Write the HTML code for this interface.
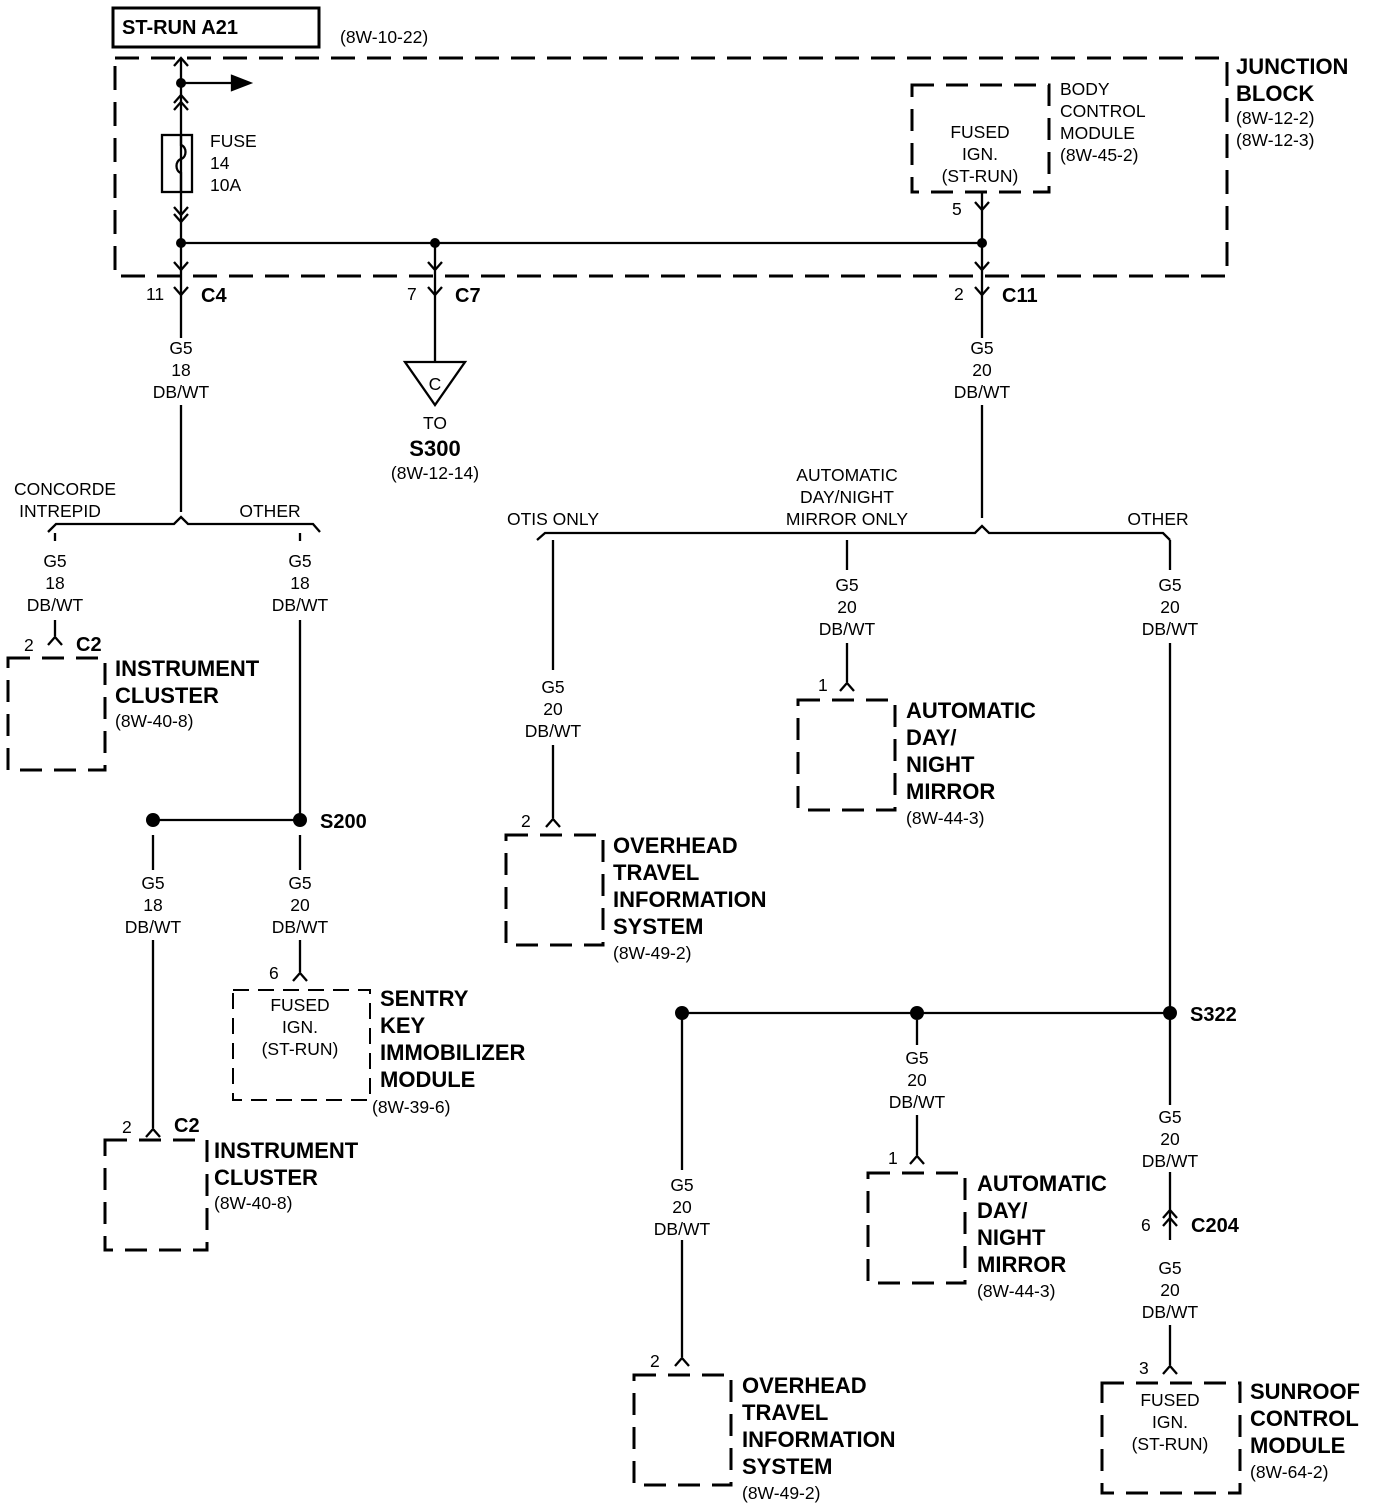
<!DOCTYPE html>
<html><head><meta charset="utf-8"><style>
html,body{margin:0;padding:0;background:#fff}
svg{display:block}
text{font-family:"Liberation Sans",sans-serif;fill:#000}
.t{font-size:17.5px}
.b{font-size:22px;font-weight:bold}
.c{text-anchor:middle}
</style></head><body>
<svg width="1376" height="1510" viewBox="0 0 1376 1510" xmlns="http://www.w3.org/2000/svg">
<g fill="none" stroke="#000" stroke-width="2.3">
<rect x="113" y="8" width="206" height="39" stroke-width="3"/>
<rect x="115" y="58" width="1112" height="218" stroke-width="3" stroke-dasharray="24,12"/>
<rect x="912" y="85" width="137" height="107" stroke-width="3" stroke-dasharray="22,12"/>
<path d="M181 58V300"/>
<path d="M174 66l7-8 7 8M174 103l7-8 7 8M174 110l7-8 7 8"/>
<path d="M181 83H235"/>
<path d="M232 76l18 7-18 7z" fill="#000"/>
<rect x="162" y="135" width="30" height="57"/>
<path d="M181 135v10c6 2 6 12 0 14c-6 2-6 12 0 14v19"/>
<path d="M174 207l7 8 7-8M174 214l7 8 7-8"/>
<path d="M174 262l7 8 7-8"/>
<path d="M181 243H982"/>
<path d="M435 243V362M428 262l7 8 7-8"/>
<path d="M982 192V338M975 202l7 8 7-8M975 262l7 8 7-8"/>
<path d="M174 287l7 8 7-8M428 287l7 8 7-8M975 287l7 8 7-8"/>
<path d="M181 300V338M181 405V512"/>
<path d="M48 532l8-8H174l7-7 7 7H313l7 8"/>
<path d="M55 533V541M300 533V541"/>
<path d="M55 620V636M48 645l7-8 7 8"/>
<rect x="8" y="658" width="97" height="112" stroke-width="3" stroke-dasharray="22,12"/>
<path d="M300 620V820M153 820H300M153 835V870M153 940V1128M146 1137l7-8 7 8"/>
<rect x="105" y="1140" width="102" height="110" stroke-width="3" stroke-dasharray="22,12"/>
<path d="M300 835V870M300 940V972M293 981l7-8 7 8"/>
<rect x="233" y="990" width="137" height="110" stroke-width="2" stroke-dasharray="16,9"/>
<path d="M405 362H465L435 405Z"/>
<path d="M982 405V518M537 540l8-7H975l7-7 7 7H1163l7 7"/>
<path d="M553 540V670M553 745V818M546 827l7-8 7 8"/>
<rect x="506" y="835" width="97" height="110" stroke-width="3" stroke-dasharray="22,12"/>
<path d="M847 540V570M847 643V682M840 691l7-8 7 8"/>
<rect x="798" y="700" width="97" height="110" stroke-width="3" stroke-dasharray="22,12"/>
<path d="M1170 540V570M1170 643V1105M682 1013H1170"/>
<path d="M917 1020V1045M917 1115V1155M910 1164l7-8 7 8"/>
<rect x="868" y="1173" width="97" height="110" stroke-width="3" stroke-dasharray="22,12"/>
<path d="M682 1013V1170M682 1240V1357M675 1366l7-8 7 8"/>
<rect x="634" y="1375" width="97" height="110" stroke-width="3" stroke-dasharray="22,12"/>
<path d="M1170 1172V1240M1163 1218l7-8 7 8M1163 1226l7-8 7 8"/>
<path d="M1170 1325V1365M1163 1374l7-8 7 8"/>
<rect x="1102" y="1383" width="138" height="110" stroke-width="3" stroke-dasharray="22,12"/>
</g>
<g fill="#000">
<circle cx="181" cy="83" r="5"/><circle cx="181" cy="243" r="5"/><circle cx="435" cy="243" r="5"/><circle cx="982" cy="243" r="5"/>
<circle cx="153" cy="820" r="7"/><circle cx="300" cy="820" r="7"/>
<circle cx="682" cy="1013" r="7"/><circle cx="917" cy="1013" r="7"/><circle cx="1170" cy="1013" r="7"/>
</g>
<text class="b" x="122" y="34" style="font-size:20px">ST-RUN A21</text>
<text class="t" x="340" y="43">(8W-10-22)</text>
<text class="b" x="1236" y="74">JUNCTION</text>
<text class="b" x="1236" y="101">BLOCK</text>
<text class="t" x="1236" y="124">(8W-12-2)</text>
<text class="t" x="1236" y="146">(8W-12-3)</text>
<text class="t" x="210" y="147">FUSE</text><text class="t" x="210" y="169">14</text><text class="t" x="210" y="191">10A</text>
<text class="t c" x="980" y="138">FUSED</text><text class="t c" x="980" y="160">IGN.</text><text class="t c" x="980" y="182">(ST-RUN)</text>
<text class="t" x="1060" y="95">BODY</text><text class="t" x="1060" y="117">CONTROL</text><text class="t" x="1060" y="139">MODULE</text><text class="t" x="1060" y="161">(8W-45-2)</text>
<text class="t" x="952" y="215">5</text>
<text class="t" x="146" y="300">11</text><text class="b" x="201" y="302" style="font-size:20px">C4</text>
<text class="t" x="407" y="300">7</text><text class="b" x="455" y="302" style="font-size:20px">C7</text>
<text class="t" x="954" y="300">2</text><text class="b" x="1002" y="302" style="font-size:20px">C11</text>
<g class="t c">
<text x="181" y="354">G5</text><text x="181" y="376">18</text><text x="181" y="398">DB/WT</text>
<text x="982" y="354">G5</text><text x="982" y="376">20</text><text x="982" y="398">DB/WT</text>
<text x="435" y="390">C</text><text x="435" y="429">TO</text>
<text x="435" y="479">(8W-12-14)</text>
<text x="65" y="495">CONCORDE</text><text x="60" y="517">INTREPID</text><text x="270" y="517">OTHER</text>
<text x="55" y="567">G5</text><text x="55" y="589">18</text><text x="55" y="611">DB/WT</text>
<text x="300" y="567">G5</text><text x="300" y="589">18</text><text x="300" y="611">DB/WT</text>
<text x="153" y="889">G5</text><text x="153" y="911">18</text><text x="153" y="933">DB/WT</text>
<text x="300" y="889">G5</text><text x="300" y="911">20</text><text x="300" y="933">DB/WT</text>
<text x="300" y="1011">FUSED</text><text x="300" y="1033">IGN.</text><text x="300" y="1055">(ST-RUN)</text>
<text x="553" y="525">OTIS ONLY</text>
<text x="847" y="481">AUTOMATIC</text><text x="847" y="503">DAY/NIGHT</text><text x="847" y="525">MIRROR ONLY</text>
<text x="1158" y="525">OTHER</text>
<text x="847" y="591">G5</text><text x="847" y="613">20</text><text x="847" y="635">DB/WT</text>
<text x="1170" y="591">G5</text><text x="1170" y="613">20</text><text x="1170" y="635">DB/WT</text>
<text x="553" y="693">G5</text><text x="553" y="715">20</text><text x="553" y="737">DB/WT</text>
<text x="917" y="1064">G5</text><text x="917" y="1086">20</text><text x="917" y="1108">DB/WT</text>
<text x="682" y="1191">G5</text><text x="682" y="1213">20</text><text x="682" y="1235">DB/WT</text>
<text x="1170" y="1123">G5</text><text x="1170" y="1145">20</text><text x="1170" y="1167">DB/WT</text>
<text x="1170" y="1274">G5</text><text x="1170" y="1296">20</text><text x="1170" y="1318">DB/WT</text>
<text x="1170" y="1406">FUSED</text><text x="1170" y="1428">IGN.</text><text x="1170" y="1450">(ST-RUN)</text>
</g>
<text class="b c" x="435" y="456">S300</text>
<text class="t" x="24" y="651">2</text><text class="b" x="76" y="651" style="font-size:20px">C2</text>
<text class="b" x="115" y="676">INSTRUMENT</text><text class="b" x="115" y="703">CLUSTER</text><text class="t" x="115" y="727">(8W-40-8)</text>
<text class="b" x="320" y="828" style="font-size:20px">S200</text>
<text class="t" x="269" y="979">6</text>
<text class="b" x="380" y="1006">SENTRY</text><text class="b" x="380" y="1033">KEY</text><text class="b" x="380" y="1060">IMMOBILIZER</text><text class="b" x="380" y="1087">MODULE</text><text class="t" x="372" y="1113">(8W-39-6)</text>
<text class="t" x="122" y="1133">2</text><text class="b" x="174" y="1132" style="font-size:20px">C2</text>
<text class="b" x="214" y="1158">INSTRUMENT</text><text class="b" x="214" y="1185">CLUSTER</text><text class="t" x="214" y="1209">(8W-40-8)</text>
<text class="t" x="521" y="827">2</text>
<text class="b" x="613" y="853">OVERHEAD</text><text class="b" x="613" y="880">TRAVEL</text><text class="b" x="613" y="907">INFORMATION</text><text class="b" x="613" y="934">SYSTEM</text><text class="t" x="613" y="959">(8W-49-2)</text>
<text class="t" x="818" y="691">1</text>
<text class="b" x="906" y="718">AUTOMATIC</text><text class="b" x="906" y="745">DAY/</text><text class="b" x="906" y="772">NIGHT</text><text class="b" x="906" y="799">MIRROR</text><text class="t" x="906" y="824">(8W-44-3)</text>
<text class="b" x="1190" y="1021" style="font-size:20px">S322</text>
<text class="t" x="888" y="1164">1</text>
<text class="b" x="977" y="1191">AUTOMATIC</text><text class="b" x="977" y="1218">DAY/</text><text class="b" x="977" y="1245">NIGHT</text><text class="b" x="977" y="1272">MIRROR</text><text class="t" x="977" y="1297">(8W-44-3)</text>
<text class="t" x="650" y="1367">2</text>
<text class="b" x="742" y="1393">OVERHEAD</text><text class="b" x="742" y="1420">TRAVEL</text><text class="b" x="742" y="1447">INFORMATION</text><text class="b" x="742" y="1474">SYSTEM</text><text class="t" x="742" y="1499">(8W-49-2)</text>
<text class="t" x="1141" y="1231">6</text><text class="b" x="1191" y="1232" style="font-size:20px">C204</text>
<text class="t" x="1139" y="1374">3</text>
<text class="b" x="1250" y="1399">SUNROOF</text><text class="b" x="1250" y="1426">CONTROL</text><text class="b" x="1250" y="1453">MODULE</text><text class="t" x="1250" y="1478">(8W-64-2)</text>
</svg>
</body></html>
